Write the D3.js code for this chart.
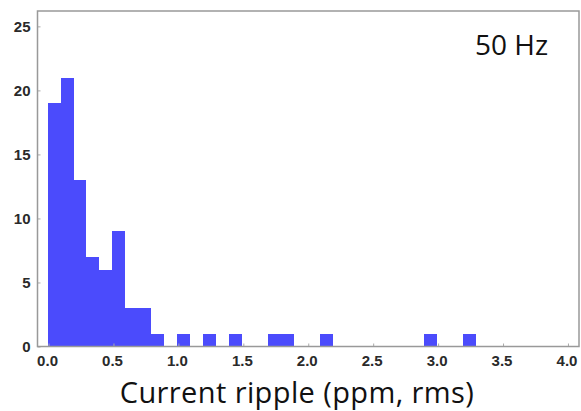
<!DOCTYPE html>
<html>
<head>
<meta charset="utf-8">
<script src="https://cdn.jsdelivr.net/npm/d3@7"></script>
<style>
  html, body { margin: 0; padding: 0; background: #fff; }
  svg { display: block; }
</style>
</head>
<body>
<svg id="chart" width="581" height="411"></svg>
<script>
// Histogram bins (left edge, ppm rms) and counts
const binStarts = [0.0, 0.1, 0.2, 0.3, 0.4, 0.5, 0.6, 0.7, 0.8, 1.0, 1.2, 1.4, 1.7, 1.8, 2.1, 2.9, 3.2];
const counts    = [19,  21,  13,  7,   6,   9,   3,   3,   1,   1,   1,   1,   1,   1,   1,   1,   1];
const binWidth = 0.1;
const xTicks = [0.0, 0.5, 1.0, 1.5, 2.0, 2.5, 3.0, 3.5, 4.0];
const yTicks = [0, 5, 10, 15, 20, 25];
const xLabel = "Current ripple (ppm, rms)";
const annotation = "50 Hz";

(function () {
const svg = d3.select("#chart");
const mLeft = 37.5, mRight = 579, mTop = 11, mBottom = 346.5;

const x = d3.scaleLinear().domain([-0.085, 4.085]).range([mLeft, mRight]);
const y = d3.scaleLinear().domain([0, 26.2]).range([mBottom, mTop]);

// bars
svg.append("g").selectAll("rect")
  .data(binStarts.map((s, i) => ({s, c: counts[i]})))
  .join("rect")
  .attr("x", d => x(d.s) - 1)
  .attr("width", d => x(d.s + binWidth) - x(d.s))
  .attr("y", d => y(d.c))
  .attr("height", d => y(0) - y(d.c))
  .attr("fill", "#4b4bfc")
  .attr("shape-rendering", "crispEdges");

// axes
const xAxis = d3.axisBottom(x).tickValues(xTicks).tickFormat(d3.format(".1f"))
  .tickSizeInner(-3).tickSizeOuter(0).tickPadding(9);
const yAxis = d3.axisLeft(y).tickValues(yTicks).tickFormat(d3.format("d"))
  .tickSizeInner(-3).tickSizeOuter(0).tickPadding(7);

const gx = svg.append("g").attr("transform", `translate(0,${mBottom})`).call(xAxis);
const gy = svg.append("g").attr("transform", `translate(${mLeft},0)`).call(yAxis);
[gx, gy].forEach(g => {
  g.select(".domain").remove();
  g.selectAll(".tick line").attr("stroke", "#aaa");
  g.selectAll(".tick text")
    .attr("font-family", "Liberation Sans, Arial, sans-serif")
    .attr("font-weight", "bold")
    .attr("font-size", 15)
    .attr("fill", "#2a2a2a");
});
gx.selectAll(".tick text").attr("dx", -1.5);

// frame
svg.append("rect")
  .attr("x", mLeft).attr("y", mTop)
  .attr("width", mRight - mLeft).attr("height", mBottom - mTop)
  .attr("fill", "none").attr("stroke", "#999").attr("stroke-width", 1.5);

// annotation
svg.append("text")
  .attr("x", 548).attr("y", 55)
  .attr("text-anchor", "end")
  .attr("font-family", "Open Sans, Noto Sans, sans-serif")
  .attr("font-size", 28)
  .attr("fill", "#111")
  .text(annotation);

// x label
svg.append("text")
  .attr("x", 297).attr("y", 403)
  .attr("text-anchor", "middle")
  .attr("font-family", "Open Sans, Noto Sans, sans-serif")
  .attr("font-size", 29)
  .attr("letter-spacing", 0.4)
  .attr("fill", "#111")
  .text(xLabel);
})();
</script>
</body>
</html>
